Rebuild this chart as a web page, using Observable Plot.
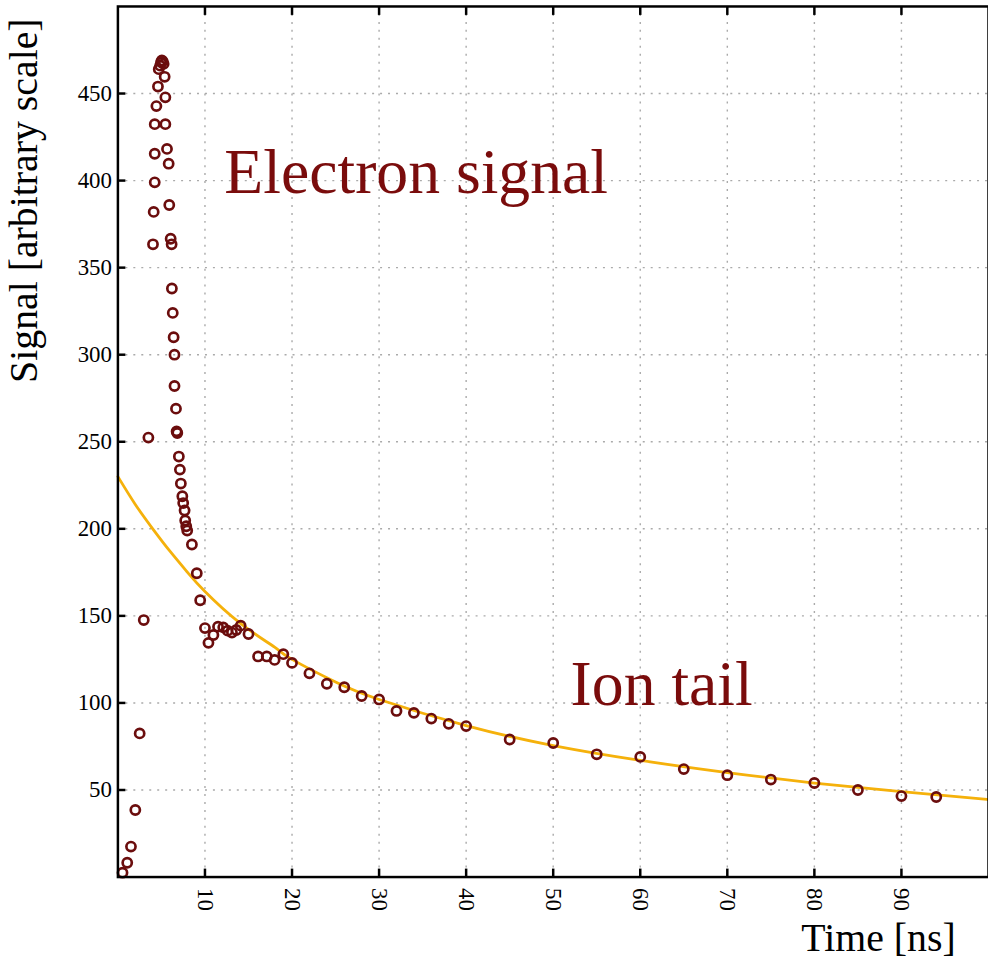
<!DOCTYPE html>
<html>
<head>
<meta charset="utf-8">
<script src="https://cdn.jsdelivr.net/npm/d3@7"></script>
<script src="https://cdn.jsdelivr.net/npm/@observablehq/plot@0.6"></script>
<style>
  html, body { margin: 0; padding: 0; background: white; overflow: hidden; }
  #wrap { width: 988px; height: 966px; overflow: hidden; }
</style>
</head>
<body>
<div id="wrap"></div>
<script>
// Measured signal (time in ns, signal in arbitrary units)
const times = [
  0.53, 1.07, 1.5, 2.0, 2.5, 2.97, 3.5, 4.03, 4.11, 4.23, 4.23, 4.23, 4.42, 4.6, 4.69,
  4.85, 4.95, 5.05, 5.15, 5.25, 5.37, 5.45, 5.45, 5.64, 5.83, 5.9, 6.06, 6.17, 6.2, 6.3,
  6.4, 6.5, 6.5, 6.67, 6.74, 6.82, 7.0, 7.12, 7.23, 7.4, 7.5, 7.66, 7.73, 7.85, 7.96,
  8.5, 9.06, 9.45, 10.0, 10.4, 10.97, 11.5, 12.1, 12.6, 13.1, 13.6, 14.1, 15, 16.1, 17.1,
  18, 19, 20, 22, 24, 26, 28, 30, 32, 34, 36, 38, 40, 45, 50, 55, 60, 65, 70, 75, 80, 85, 90, 94
];
const signals = [
  2.5, 8.2, 17.5, 38.5, 82.5, 147.6, 252.4, 363.4, 382, 399, 415.4, 432.4, 442.8, 454, 464,
  466, 468, 469, 468.5, 467, 459.6, 447.8, 432.4, 418.2, 409.7, 386, 366.6, 363.4, 338, 324,
  310, 300, 282, 269, 256, 255, 241.5, 234, 226, 218.7, 214.8, 210.5, 204.8, 201.5, 199,
  191, 174.5, 159, 143, 134.5, 139, 143.8, 143.4, 141.5, 140.4, 141.9, 144.4, 139.6, 126.7, 126.7,
  124.7, 128, 123, 117, 111, 109, 104, 102, 95.4, 94.3, 91, 88, 86.7, 79, 77, 70.5, 69, 62, 58.5, 56, 54, 50, 46.5, 46
];
// Fitted ion-tail curve
const fitTimes   = [0, 2, 4, 6, 8, 10, 14, 18, 20, 25, 30, 40, 50, 60, 70, 80, 90, 100];
const fitSignals = [230, 214, 200, 187, 175, 164, 146, 132, 125, 112, 102, 87, 75.5, 67, 60, 54, 49, 44.5];

const xTicks = [10, 20, 30, 40, 50, 60, 70, 80, 90];
const yTicks = [50, 100, 150, 200, 250, 300, 350, 400, 450];

const xTitle = "Time [ns]";
const yTitle = "Signal [arbitrary scale]";
const annotations = ["Electron signal", "Ion tail"];

const points = times.map((t, i) => ({t, s: signals[i]}));
const fit = fitTimes.map((t, i) => ({t, s: fitSignals[i]}));

const dark = "#6b0d0d";
const textRed = "#7a0c0c";
const gridStyle = {stroke: "#aaa", strokeOpacity: 1, strokeDasharray: "2,6", strokeWidth: 1.4};

const chart = Plot.plot({
  width: 993,
  height: 966,
  marginLeft: 118,
  marginRight: 0,
  marginTop: 6,
  marginBottom: 85,
  style: {fontFamily: "'Liberation Serif', 'DejaVu Serif', serif", background: "white", color: "black"},
  x: {domain: [0, 100]},
  y: {domain: [0, 500]},
  marks: [
    Plot.gridX(xTicks, gridStyle),
    Plot.gridY(yTicks, gridStyle),
    Plot.line(fit, {x: "t", y: "s", stroke: "#f5b10b", strokeWidth: 2.8, curve: "natural"}),
    Plot.dot(points, {x: "t", y: "s", r: 4.6, stroke: dark, strokeWidth: 2.7, fill: "none"}),
    Plot.axisX(xTicks, {anchor: "bottom", tickSize: -8, strokeWidth: 2.5, tickFormat: () => "", label: null}),
    Plot.axisX(xTicks, {anchor: "top", tickSize: -8, strokeWidth: 2.5, tickFormat: () => "", label: null}),
    Plot.axisY(yTicks, {anchor: "left", tickSize: -8, strokeWidth: 2.5, tickFormat: () => "", label: null}),
    Plot.axisX(xTicks, {anchor: "bottom", tickSize: 0, tickPadding: 11, tickRotate: 90, fontSize: 23, label: null}),
    Plot.axisY(yTicks, {anchor: "left", tickSize: 0, tickPadding: 6, fontSize: 23, label: null}),
    Plot.frame({stroke: "black", strokeWidth: 2.5}),
    Plot.text([annotations[0]], {frameAnchor: "top-left", dx: 107, dy: 187, textAnchor: "start", lineAnchor: "bottom", fontSize: 64, fill: textRed}),
    Plot.text([annotations[1]], {frameAnchor: "top-left", dx: 455, dy: 702, textAnchor: "start", lineAnchor: "bottom", fontSize: 64, fill: textRed}),
    Plot.text([xTitle], {frameAnchor: "bottom-right", dx: -33, dy: 74, textAnchor: "end", lineAnchor: "bottom", fontSize: 40, fill: "black"}),
    Plot.text([yTitle], {frameAnchor: "top-left", dx: -81, dy: 12, rotate: -90, textAnchor: "end", lineAnchor: "bottom", fontSize: 40, fill: "black"})
  ]
});

document.getElementById("wrap").appendChild(chart);
</script>
</body>
</html>
